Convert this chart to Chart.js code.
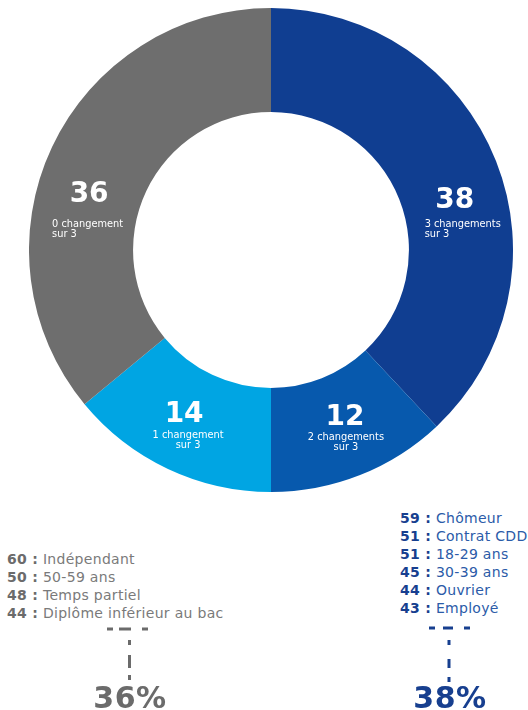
<!DOCTYPE html>
<html>
<head>
<meta charset="utf-8">
<script src="https://cdn.jsdelivr.net/npm/chart.js@4"></script>
<style>
  body { margin: 0; width: 528px; height: 710px; background: #fff; position: relative; overflow: hidden;
         font-family: "DejaVu Sans", Verdana, sans-serif; }
  #chartBox { position: absolute; left: 29px; top: 8px; width: 484px; height: 484px; }
  .list { position: absolute; font-size: 14px; line-height: 18px; letter-spacing: 0.3px; white-space: nowrap; }
  .list b { font-weight: bold; }
  #grayList { left: 7px; top: 550px; color: #7a7a7a; }
  #grayList b { color: #6b6b6b; }
  #blueList { left: 400px; top: 509px; color: #2b5ba8; }
  #blueList b { color: #173f8f; }
  .pct { position: absolute; width: 140px; text-align: center; font-size: 30px; line-height: 28px; font-weight: bold;
         letter-spacing: 0.5px; top: 684px; }
  #grayPct { left: 60px; color: #6b6b6b; }
  #bluePct { left: 380px; color: #173f8f; }
  svg { position: absolute; left: 0; top: 0; }
</style>
</head>
<body>
<div id="chartBox"><canvas id="donut"></canvas></div>
<div class="list" id="grayList"></div>
<div class="list" id="blueList"></div>
<svg width="528" height="710">
  <g stroke="#6b6b6b" stroke-width="3">
    <line x1="107" y1="629" x2="113" y2="629"/>
    <line x1="119" y1="629" x2="131" y2="629"/>
    <line x1="142" y1="629" x2="148" y2="629"/>
    <line x1="129.5" y1="640" x2="129.5" y2="645"/>
    <line x1="129.5" y1="655" x2="129.5" y2="668"/>
    <line x1="129.5" y1="675" x2="129.5" y2="680"/>
  </g>
  <g stroke="#173f8f" stroke-width="3">
    <line x1="429" y1="628" x2="435" y2="628"/>
    <line x1="443" y1="628" x2="453" y2="628"/>
    <line x1="464" y1="628" x2="470" y2="628"/>
    <line x1="449" y1="640" x2="449" y2="645"/>
    <line x1="449" y1="659" x2="449" y2="668"/>
    <line x1="449" y1="677" x2="449" y2="682"/>
  </g>
</svg>
<div class="pct" id="grayPct"></div>
<div class="pct" id="bluePct"></div>
<script>
// doughnut data (clockwise from top)
const categories = ["3 changements", "2 changements", "1 changement", "0 changement"];
const values = [38, 12, 14, 36];
const subLine = "sur 3";

// lists below the ring
const grayNames = ["Indépendant", "50-59 ans", "Temps partiel", "Diplôme inférieur au bac"];
const grayScores = [60, 50, 48, 44];
const blueNames = ["Chômeur", "Contrat CDD", "18-29 ans", "30-39 ans", "Ouvrier", "Employé"];
const blueScores = [59, 51, 51, 45, 44, 43];

const colors = ["#103e91", "#0759ad", "#00a5e3", "#6e6e6e"];

function fillList(id, scores, names) {
  const el = document.getElementById(id);
  el.innerHTML = scores.map((s, i) => "<b>" + s + " :</b> " + names[i]).join("<br>");
}
fillList("grayList", grayScores, grayNames);
fillList("blueList", blueScores, blueNames);
document.getElementById("grayPct").innerText = values[3] + "%";
document.getElementById("bluePct").innerText = values[0] + "%";

// label placement tweaks per slice (number shift, text alignment, gap to sub text)
const place = [
  { dx: 7, dy: 28, align: "left", sx: -30, gap: 19 },
  { dx: 4, dy: -2, align: "center", sx: 1, gap: 15 },
  { dx: -6, dy: 0, align: "center", sx: 4, gap: 16 },
  { dx: -10, dy: 33, align: "left", sx: -37, gap: 25 }
];

const sliceLabels = {
  id: "sliceLabels",
  afterDatasetsDraw(chart) {
    const ctx = chart.ctx;
    const meta = chart.getDatasetMeta(0);
    meta.data.forEach((arc, i) => {
      const p = arc.getProps(["x", "y", "startAngle", "endAngle", "innerRadius", "outerRadius"], true);
      const mid = (p.startAngle + p.endAngle) / 2;
      const r = (p.innerRadius + p.outerRadius) / 2;
      const cx = p.x + Math.cos(mid) * r + place[i].dx;
      const cy = p.y + Math.sin(mid) * r + place[i].dy;
      ctx.save();
      ctx.fillStyle = "#fff";
      ctx.textBaseline = "alphabetic";
      ctx.textAlign = "center";
      ctx.font = "bold 28px 'DejaVu Sans'";
      ctx.fillText(values[i], cx, cy);
      ctx.font = "9.8px 'DejaVu Sans'";
      ctx.textAlign = place[i].align;
      const sx = cx + place[i].sx;
      ctx.fillText(categories[i], sx, cy + place[i].gap);
      ctx.fillText(subLine, sx, cy + place[i].gap + 10);
      ctx.restore();
    });
  }
};

new Chart(document.getElementById("donut").getContext("2d"), {
  type: "doughnut",
  data: {
    labels: categories,
    datasets: [{
      data: values,
      backgroundColor: colors,
      borderWidth: 0,
      hoverOffset: 0
    }]
  },
  options: {
    responsive: true,
    maintainAspectRatio: false,
    animation: false,
    cutout: "57%",
    layout: { padding: 0 },
    plugins: {
      legend: { display: false },
      tooltip: { enabled: false }
    }
  },
  plugins: [sliceLabels]
});
</script>
</body>
</html>
